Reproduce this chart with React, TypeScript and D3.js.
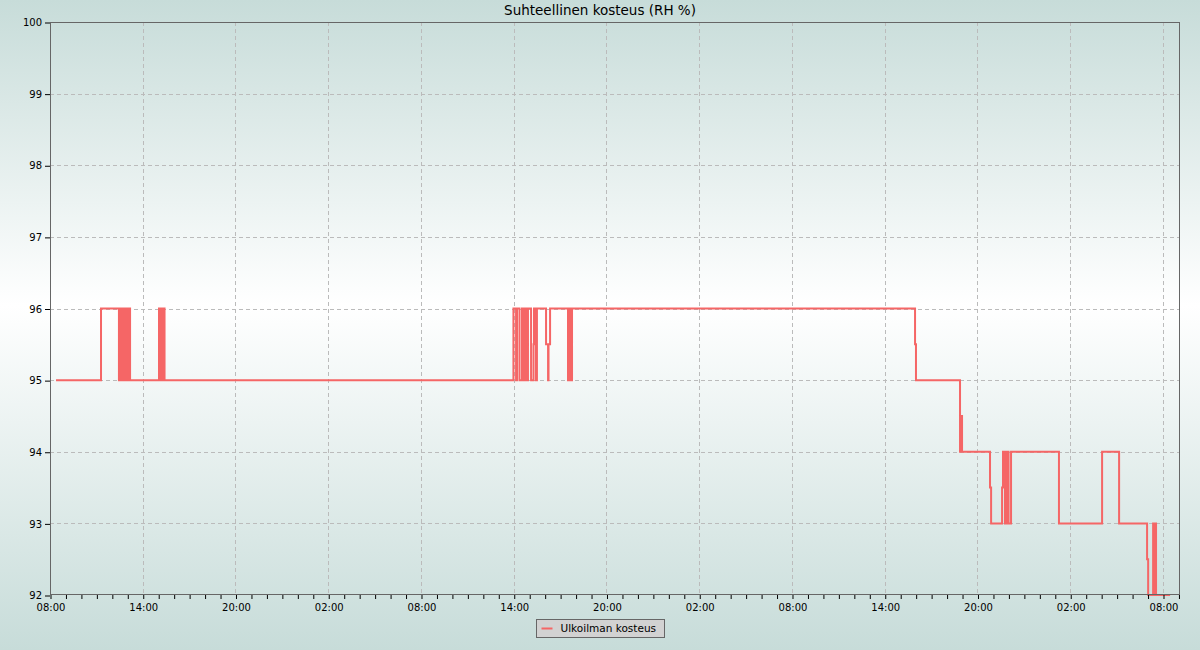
import React, { useEffect, useRef } from "react";
import * as d3 from "d3";

// hours after the first 08:00 tick, and the RH value from that moment on
const hours = [
  0.39, 3.3, 4.46, 4.53, 4.59, 4.66, 4.72, 4.79, 4.88, 4.98, 5.05, 5.11, 5.18,
  7.05, 7.18, 7.28, 7.41,
  29.98, 30.15, 30.21, 30.37, 30.53, 30.66, 30.73, 30.86, 30.92, 31.12, 31.28,
  31.31, 31.44, 31.5, 32.09, 32.22, 32.25, 32.35, 33.51, 33.61, 33.67, 33.77,
  55.96, 56.02, 58.87, 58.93, 59.0, 60.81, 60.88, 61.59, 61.65, 61.78, 61.91,
  62.01, 62.17, 65.27, 68.06, 69.16, 70.97, 71.04, 71.36, 71.45, 71.49, 71.55,
  72.46,
];
const humidity = [
  95, 96, 95, 96, 95, 96, 95, 96, 95, 96, 95, 96, 95,
  96, 95, 96, 95,
  96, 95, 96, 95, 96, 95, 96, 95, 96, 95, 95.5,
  96, 95, 96, 95.5, 95, 95.5, 96, 95, 96, 95, 96,
  95.5, 95, 94, 94.5, 94, 93.5, 93, 93.5, 94, 93, 94,
  93, 94, 93, 94, 93, 92.5, 92, 93, 92, 93, 92,
  92,
];
const yTicks = [92, 93, 94, 95, 96, 97, 98, 99, 100];
const title = "Suhteellinen kosteus (RH %)";
const seriesName = "Ulkoilman kosteus";

export default function App() {
  const svgRef = useRef<SVGSVGElement>(null);

  useEffect(() => {
    const width = 1200;
    const height = 650;
    const m = { top: 22, right: 20, bottom: 55, left: 50 };
    const font = "DejaVu Sans, sans-serif";
    const red = "#f56666";

    const svg = d3.select(svgRef.current).attr("width", width).attr("height", height);
    svg.selectAll("*").remove();

    // background: teal-grey at the edges, white in the middle
    const grad = svg.append("defs").append("linearGradient")
      .attr("id", "bg").attr("x1", 0).attr("y1", 0).attr("x2", 0).attr("y2", 1);
    grad.append("stop").attr("offset", "0%").attr("stop-color", "#c7dcd9");
    grad.append("stop").attr("offset", "47%").attr("stop-color", "#ffffff");
    grad.append("stop").attr("offset", "100%").attr("stop-color", "#c7dcd9");
    svg.append("rect").attr("width", width).attr("height", height).attr("fill", "url(#bg)");

    const start = new Date(2024, 0, 1, 8, 0);
    const at = (h: number) => new Date(start.getTime() + h * 3600e3);

    const x = d3.scaleTime()
      .domain([start, at(73.1)])
      .range([m.left, width - m.right]);
    const y = d3.scaleLinear()
      .domain([92, 100])
      .range([height - m.bottom, m.top]);

    // ticks counted from the 08:00 start: labels every 6 h, marks every hour
    const major = d3.range(0, 73, 6).map(at);
    const minor = d3.range(0, 74, 1).map(at);

    // grid
    const grid = svg.append("g")
      .attr("stroke", "#bbbbbb")
      .attr("stroke-dasharray", "4,3")
      .attr("stroke-width", 1);
    grid.selectAll(".gx")
      .data(major.filter(d => x(d) > m.left + 1))
      .join("line")
      .attr("x1", d => Math.round(x(d)) + 0.5).attr("x2", d => Math.round(x(d)) + 0.5)
      .attr("y1", m.top).attr("y2", height - m.bottom);
    grid.selectAll(".gy")
      .data(yTicks.filter(v => v > 92 && v < 100))
      .join("line")
      .attr("x1", m.left).attr("x2", width - m.right)
      .attr("y1", d => Math.round(y(d)) + 0.5).attr("y2", d => Math.round(y(d)) + 0.5);

    // series
    const line = d3.line<number>()
      .x((_, i) => x(at(hours[i])))
      .y(d => y(d))
      .curve(d3.curveStepAfter);
    svg.append("path")
      .datum(humidity)
      .attr("d", line)
      .attr("fill", "none")
      .attr("stroke", red)
      .attr("stroke-width", 2);

    // frame
    svg.append("rect")
      .attr("x", m.left + 0.5).attr("y", m.top + 0.5)
      .attr("width", width - m.left - m.right - 1)
      .attr("height", height - m.top - m.bottom - 1)
      .attr("fill", "none").attr("stroke", "#666");

    // axes
    const xAxis = d3.axisBottom(x)
      .tickValues(minor)
      .tickSize(4)
      .tickFormat(d => (major.some(t => +t === +d) ? d3.timeFormat("%H:%M")(d as Date) : ""));
    const gx = svg.append("g")
      .attr("transform", `translate(0.5, ${height - m.bottom})`)
      .call(xAxis);
    gx.select(".domain").remove();
    gx.selectAll("line").attr("stroke", "#000");
    gx.selectAll("text").attr("font-family", font).attr("font-size", 10).attr("fill", "#000").attr("dy", "0.9em");

    const yAxis = d3.axisLeft(y).tickValues(yTicks).tickSize(5).tickFormat(d3.format("d"));
    const gy = svg.append("g")
      .attr("transform", `translate(${m.left}, 0.5)`)
      .call(yAxis);
    gy.select(".domain").remove();
    gy.selectAll("line").attr("stroke", "#000");
    gy.selectAll("text").attr("font-family", font).attr("font-size", 10).attr("fill", "#000");

    // title
    svg.append("text")
      .attr("x", width / 2)
      .attr("y", 15)
      .attr("text-anchor", "middle")
      .attr("font-family", font)
      .attr("font-size", 13.5)
      .attr("fill", "#000")
      .text(title);

    // legend
    const lg = svg.append("g").attr("transform", "translate(536.5, 619.5)");
    lg.append("rect").attr("width", 128).attr("height", 18).attr("fill", "#d2d2d2").attr("stroke", "#666");
    lg.append("line").attr("x1", 5).attr("x2", 16).attr("y1", 9).attr("y2", 9).attr("stroke", red).attr("stroke-width", 2);
    lg.append("text").attr("x", 24).attr("y", 12.5)
      .attr("font-family", font).attr("font-size", 10.5).attr("fill", "#000")
      .text(seriesName);
  }, []);

  return (
    <div style={{ position: "absolute", left: 0, top: 0 }}>
      <svg ref={svgRef} style={{ display: "block" }}></svg>
    </div>
  );
}
